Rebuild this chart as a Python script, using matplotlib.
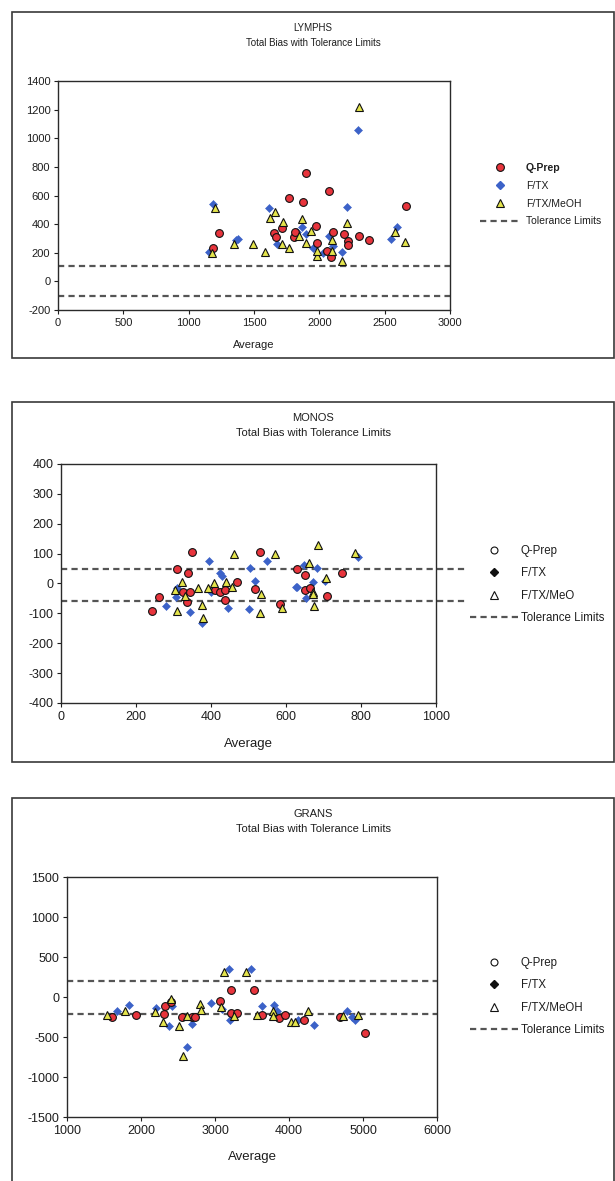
import numpy as np
import matplotlib
matplotlib.use("Agg")
import matplotlib.pyplot as plt
from matplotlib.lines import Line2D
from matplotlib.patches import Rectangle

plt.rcParams["font.family"] = ["Liberation Sans", "DejaVu Sans"]
plt.rcParams["axes.unicode_minus"] = False

# ---------------- dados ----------------
# LYMPHS
lym_qprep_x = [1189, 1235, 1653, 1668, 1712, 1770, 1806, 1814, 1873, 1898, 1974,
               1985, 2061, 2076, 2092, 2107, 2189, 2219, 2219, 2306, 2383, 2663]
lym_qprep_y = [235, 336, 336, 312, 371, 580, 307, 347, 555, 757, 389,
               266, 214, 634, 168, 347, 331, 282, 254, 319, 289, 527]
lym_ftx_x = [1158, 1189, 1360, 1380, 1617, 1673, 1830, 1865, 1898, 1954, 2026,
             2076, 2107, 2171, 2209, 2296, 2546, 2592]
lym_ftx_y = [208, 540, 290, 294, 510, 261, 345, 382, 329, 231, 196,
             314, 250, 208, 522, 1058, 298, 382]
lym_meoh_x = [1176, 1202, 1347, 1490, 1587, 1623, 1661, 1714, 1720, 1765, 1847,
              1865, 1898, 1934, 1980, 1982, 2097, 2097, 2176, 2209, 2306, 2581, 2658]
lym_meoh_y = [201, 510, 259, 259, 203, 441, 487, 261, 417, 231, 314,
              434, 270, 354, 177, 215, 289, 214, 145, 410, 1216, 347, 273]
lym_tol = [110, -105]

# MONOS
mon_qprep_x = [242, 262, 310, 325, 335, 338, 344, 348, 411, 424, 437, 437, 470,
               517, 531, 584, 628, 651, 651, 665, 710, 749]
mon_qprep_y = [-92, -46, 48, -27, -61, 34, -27, 106, -22, -27, -22, -55, 5,
               -19, 106, -69, 48, 28, -22, -15, -42, 34]
mon_ftx_x = [280, 306, 310, 344, 376, 395, 400, 424, 428, 446, 502, 504, 517,
             550, 627, 628, 648, 653, 673, 682, 703, 791]
mon_ftx_y = [-75, -44, -16, -94, -133, 76, -30, 34, 26, -83, -86, 51, 9,
             76, -11, -11, 62, -50, 6, 51, 8, 90]
mon_meoh_x = [304, 308, 322, 331, 366, 375, 379, 393, 408, 440, 455, 461, 531,
              533, 571, 588, 662, 671, 673, 675, 686, 707, 784]
mon_meoh_y = [-22, -91, 6, -42, -16, -72, -114, -16, 0, 6, -11, 99, -100,
              -35, 99, -83, 67, -27, -35, -75, 129, 17, 101]
mon_tol = [49, -57]

# GRANS
gra_qprep_x = [1605, 1936, 2310, 2320, 2400, 2559, 2692, 2730, 3062, 3211, 3222,
               3301, 3523, 3635, 3868, 3946, 4203, 4684, 5023]
gra_qprep_y = [-250, -225, -213, -112, -66, -250, -250, -250, -50, 88, -196,
               -196, 88, -225, -259, -225, -288, -246, -446]
gra_ftx_x = [1669, 1833, 2203, 2384, 2420, 2628, 2690, 2946, 3100, 3195, 3200,
             3486, 3635, 3804, 3840, 4122, 4334, 4784, 4850, 4890]
gra_ftx_y = [-170, -105, -134, -359, -112, -629, -342, -79, -150, 350, -288,
             350, -112, -104, -170, -288, -354, -170, -245, -288]
gra_meoh_x = [1536, 1790, 2188, 2304, 2400, 2516, 2564, 2620, 2797, 2810, 3078,
              3126, 3250, 3423, 3566, 3780, 3790, 4027, 4078, 4260, 4730, 4927]
gra_meoh_y = [-225, -170, -190, -308, -29, -359, -737, -240, -91, -165, -129,
              309, -238, 309, -225, -170, -235, -317, -317, -175, -235, -220]
gra_tol = [195, -210]

W, H = 615, 1181
fig = plt.figure(figsize=(W / 100, H / 100), dpi=100)

RED = "#e8343c"
BLUE = "#3c62c8"
YEL = "#e4e44c"
TXT = "#1e1e1e"
TOL_STYLE = dict(color="#555555", lw=1.6, linestyle=(0, (2.8, 1.9)))


def fx(px):
    return px / W


def fy(py):
    return 1 - py / H


def painel(box, area, nome, xs, ys, tol, xlim, xticks, ylim, yticks,
           fs_tick, fs_title, fs_leg, fs_lab, labelpad, tol_ext,
           leg_top, leg_left, leg_hl, leg_pad, leg_sp, leg_labels, colorido):
    # moldura da area do grafico (estilo Excel)
    x0, y0, x1, y1 = box
    fig.patches.append(Rectangle((fx(x0), fy(y1)), fx(x1 - x0), (y1 - y0) / H,
                                 transform=fig.transFigure, fill=False,
                                 edgecolor="#3a3a3a", linewidth=1.2))
    l, t, r, b = area
    ax = fig.add_axes([fx(l), fy(b), fx(r - l), (b - t) / H])

    ax.plot(xs[0], ys[0], "o", ms=5.6, mfc=RED, mec="#111", mew=0.8, zorder=4)
    ax.plot(xs[1], ys[1], "D", ms=4.4, mfc=BLUE, mec=BLUE, mew=0.4, zorder=3)
    ax.plot(xs[2], ys[2], "^", ms=5.8, mfc=YEL, mec="#111", mew=0.8, zorder=5)

    # limites de tolerancia
    for v in tol:
        ax.axhline(v, xmin=0, xmax=tol_ext, clip_on=False, zorder=2, **TOL_STYLE)

    ax.set_xlim(*xlim)
    ax.set_ylim(*ylim)
    ax.set_xticks(xticks)
    ax.set_yticks(yticks)
    ax.tick_params(direction="out", length=3, width=0.8, labelsize=fs_tick,
                   colors=TXT, pad=2.5)
    for s in ax.spines.values():
        s.set_color("#2a2a2a")
        s.set_linewidth(1.0)
    ax.set_xlabel("Average", fontsize=fs_lab, color=TXT, labelpad=labelpad)

    cx = fx((x0 + x1) / 2)
    fig.text(cx, fy(y0 + 16), nome, ha="center", va="center",
             fontsize=fs_title, color=TXT)
    fig.text(cx, fy(y0 + 31), "Total Bias with Tolerance Limits",
             ha="center", va="center", fontsize=fs_title, color=TXT)

    if colorido:
        hs = [Line2D([], [], ls="none", marker="o", ms=5.6, mfc=RED, mec="#111", mew=0.8),
              Line2D([], [], ls="none", marker="D", ms=4.4, mfc=BLUE, mec=BLUE),
              Line2D([], [], ls="none", marker="^", ms=5.8, mfc=YEL, mec="#111", mew=0.8)]
    else:
        hs = [Line2D([], [], ls="none", marker="o", ms=5, mfc="white", mec="#111", mew=0.8),
              Line2D([], [], ls="none", marker="D", ms=3.6, mfc="#111", mec="#111"),
              Line2D([], [], ls="none", marker="^", ms=5.2, mfc="white", mec="#111", mew=0.8)]
    hs.append(Line2D([], [], **TOL_STYLE))
    leg = ax.legend(hs, leg_labels, loc="upper left",
                    bbox_to_anchor=(fx(leg_left), fy(leg_top)),
                    bbox_transform=fig.transFigure, frameon=False,
                    fontsize=fs_leg, borderpad=0, borderaxespad=0,
                    handlelength=leg_hl, handletextpad=leg_pad,
                    labelspacing=leg_sp)
    for tx in leg.get_texts():
        tx.set_color(TXT)
    if colorido:
        leg.get_texts()[0].set_fontweight("bold")
    return ax


painel((12, 12, 614, 358), (58, 81, 450, 310), "LYMPHS",
       [lym_qprep_x, lym_ftx_x, lym_meoh_x], [lym_qprep_y, lym_ftx_y, lym_meoh_y],
       lym_tol, (0, 3000), np.arange(0, 3001, 500), (-200, 1400),
       np.arange(-200, 1401, 200), 8, 7, 7.5, 8, 9, 1.0,
       163, 480, 3.9, 0.5, 0.75,
       ["Q-Prep", "F/TX", "F/TX/MeOH", "Tolerance Limits"], True)

painel((12, 402, 614, 762), (61, 464, 436, 703), "MONOS",
       [mon_qprep_x, mon_ftx_x, mon_meoh_x], [mon_qprep_y, mon_ftx_y, mon_meoh_y],
       mon_tol, (0, 1000), np.arange(0, 1001, 200), (-400, 400),
       np.arange(-400, 401, 100), 9, 8, 8.3, 9.5, 11, 1.077,
       545, 470, 4.2, 0.2, 0.9,
       ["Q-Prep", "F/TX", "F/TX/MeO", "Tolerance Limits"], False)

painel((12, 798, 614, 1190), (67, 877, 437, 1117), "GRANS",
       [gra_qprep_x, gra_ftx_x, gra_meoh_x], [gra_qprep_y, gra_ftx_y, gra_meoh_y],
       gra_tol, (1000, 6000), np.arange(1000, 6001, 1000), (-1500, 1500),
       np.arange(-1500, 1501, 500), 9, 8, 8.3, 9.5, 10, 1.0,
       957, 470, 4.2, 0.2, 0.9,
       ["Q-Prep", "F/TX", "F/TX/MeOH", "Tolerance Limits"], False)

fig.savefig("out.png", dpi=100)
